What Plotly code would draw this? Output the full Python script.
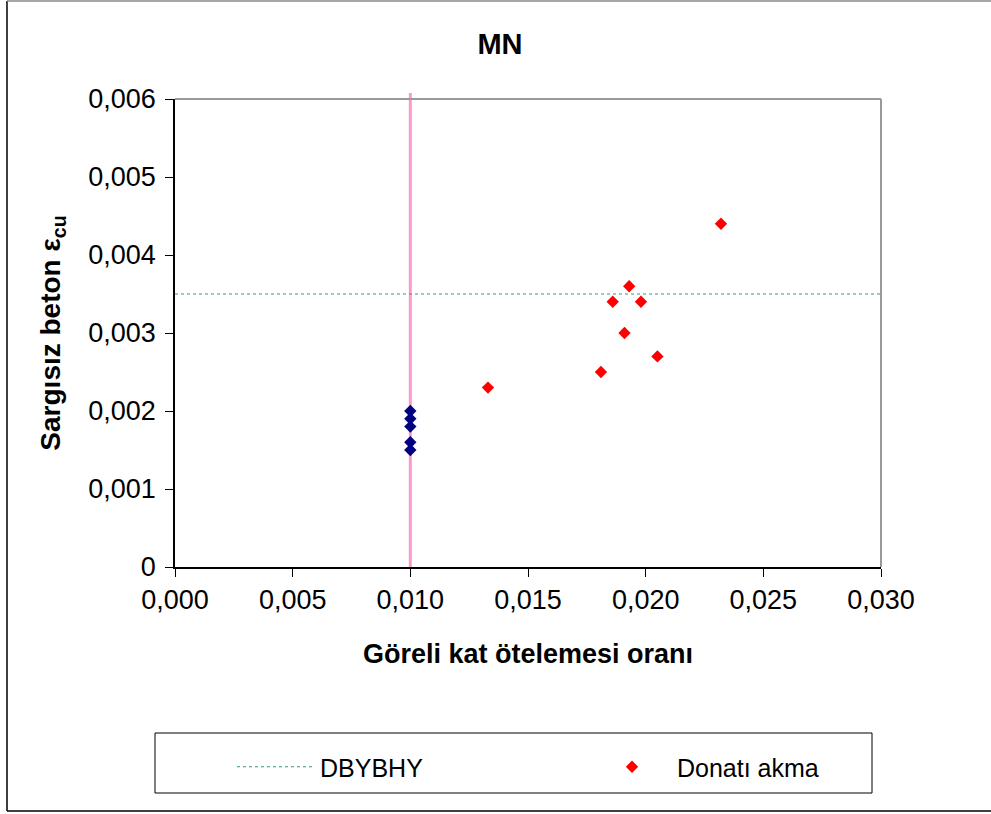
import plotly.graph_objects as go

# Limit lines
drift_limit_x = [0.010, 0.010]
drift_limit_y = [0.0, 0.00608]
dbybhy_x = [0.0, 0.030]
dbybhy_y = [0.0035, 0.0035]

# Points at the drift limit (no reinforcement yield)
limit_pts_x = [0.010, 0.010, 0.010, 0.010, 0.010]
limit_pts_y = [0.0020, 0.0019, 0.0018, 0.0016, 0.0015]

# Reinforcement yield points
yield_x = [0.0232, 0.0193, 0.0186, 0.0198, 0.0191, 0.0205, 0.0181, 0.0133]
yield_y = [0.0044, 0.0036, 0.0034, 0.0034, 0.0030, 0.0027, 0.0025, 0.0023]

x_ticks = [0.000, 0.005, 0.010, 0.015, 0.020, 0.025, 0.030]
x_tick_text = ["0,000", "0,005", "0,010", "0,015", "0,020", "0,025", "0,030"]
y_ticks = [0, 0.001, 0.002, 0.003, 0.004, 0.005, 0.006]
y_tick_text = ["0", "0,001", "0,002", "0,003", "0,004", "0,005", "0,006"]

W, H = 991, 814
L, R, T, B = 175, 110, 99, 247
PW, PH = W - L - R, H - T - B


def px(xpix):
    return (xpix - L) / PW


def py(ypix):
    return 1 - (ypix - T) / PH


FONT = "Liberation Sans, Arial, sans-serif"

fig = go.Figure()

fig.add_trace(go.Scatter(
    x=dbybhy_x, y=dbybhy_y, mode="lines", name="DBYBHY",
    line=dict(color="#339980", width=1, dash="dot"), legend="legend",
))
fig.add_trace(go.Scatter(
    x=limit_pts_x, y=limit_pts_y, mode="markers", showlegend=False,
    marker=dict(symbol="diamond", size=9.5, color="#000080"),
))
fig.add_trace(go.Scatter(
    x=yield_x, y=yield_y, mode="markers", name="Donatı akma",
    marker=dict(symbol="diamond", size=9.5, color="#FF0000"), legend="legend2",
))

shapes = [
    # drift limit line (runs slightly past the top of the plot area)
    dict(type="line", xref="x", yref="paper",
         x0=drift_limit_x[0], x1=drift_limit_x[1],
         y0=drift_limit_y[0] / 0.006, y1=py(93),
         line=dict(color="#FF99CC", width=3), layer="below"),
    # plot area frame (top and right in grey)
    dict(type="line", xref="paper", yref="paper", x0=0, x1=1, y0=1, y1=1,
         line=dict(color="#999999", width=2)),
    dict(type="line", xref="paper", yref="paper", x0=1, x1=1, y0=0, y1=1,
         line=dict(color="#999999", width=2)),
    # legend box
    dict(type="rect", xref="paper", yref="paper",
         x0=px(155), x1=px(872), y0=py(793), y1=py(733),
         line=dict(color="#000000", width=1)),
    # chart border
    dict(type="line", xref="paper", yref="paper", x0=px(7), x1=px(7),
         y0=py(811), y1=py(1), line=dict(color="#000000", width=1.5)),
    dict(type="line", xref="paper", yref="paper", x0=px(7), x1=px(995),
         y0=py(1), y1=py(1), line=dict(color="#888888", width=1.5)),
    dict(type="line", xref="paper", yref="paper", x0=px(7), x1=px(995),
         y0=py(811), y1=py(811), line=dict(color="#000000", width=1.5)),
]

fig.update_layout(
    width=W, height=H,
    margin=dict(l=L, r=R, t=T, b=B, autoexpand=False),
    paper_bgcolor="white", plot_bgcolor="white",
    font=dict(family=FONT, color="black"),
    title=dict(text="<b>MN</b>", x=500 / W, xanchor="center",
               y=1 - 44 / H, yanchor="middle", yref="container",
               font=dict(size=29, family=FONT)),
    xaxis=dict(
        range=[0, 0.030], tickvals=x_ticks, ticktext=x_tick_text,
        showgrid=False, zeroline=False, showline=True, linecolor="black",
        linewidth=1.5, ticks="outside", ticklen=8, tickcolor="black",
        tickfont=dict(size=27), mirror=False,
        title=dict(text="<b>Göreli kat ötelemesi oranı</b>", font=dict(size=27),
                   standoff=30),
    ),
    yaxis=dict(
        range=[0, 0.006], tickvals=y_ticks, ticktext=y_tick_text,
        showgrid=False, zeroline=False, showline=True, linecolor="black",
        linewidth=1.5, ticks="outside", ticklen=8, tickcolor="black",
        tickfont=dict(size=27), ticklabelstandoff=4,
        title=dict(text="<b>Sargısız beton ε<sub>cu</sub></b>", font=dict(size=28),
                   standoff=19),
    ),
    legend=dict(x=px(232), y=py(767), xanchor="left", yanchor="middle",
                orientation="h", itemwidth=78, bgcolor="rgba(0,0,0,0)",
                borderwidth=0, font=dict(size=25, family=FONT)),
    legend2=dict(x=px(587), y=py(767), xanchor="left", yanchor="middle",
                 orientation="h", itemwidth=80, bgcolor="rgba(0,0,0,0)",
                 borderwidth=0, font=dict(size=25, family=FONT)),
    shapes=shapes,
    showlegend=True,
)

fig.write_html("out.html")
